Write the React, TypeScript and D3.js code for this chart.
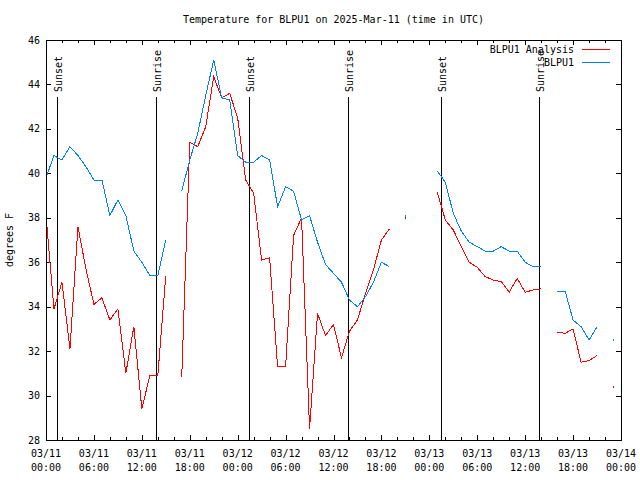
import React from "react";
import * as d3 from "d3";

const TITLE = "Temperature for BLPU1 on 2025-Mar-11 (time in UTC)";
const START = "2025-03-11T00:00:00Z";
const END = "2025-03-14T00:00:00Z";

// hourly values starting at START (null = missing)
const observed: (number | null)[] = [
  39.8, 40.8, 40.6, 41.2, 40.8, 40.3, 39.7, 39.7, 38.1, 38.8, 38.1, 36.5, 36.0, 35.4, 35.4, 37.0,
  null, 39.2, 40.6, 41.8, 43.5, 45.1, 43.4, 43.3, 40.8, 40.5, 40.5, 40.8, 40.6, 38.5, 39.4, 39.2,
  37.9, 38.1, 36.9, 35.9, 35.5, 35.1, 34.3, 34.0, 34.45, 35.1, 36.0, 35.8, null, 38.1, null, null,
  null, 40.1, 39.6, 38.2, 37.4, 36.9, 36.7, 36.5, 36.5, 36.7, 36.5, 36.5, 36.0, 35.8, 35.8, null,
  34.7, 34.7, 33.4, 33.1, 32.5, 33.1, null, 32.5,
];
const analysis: (number | null)[] = [
  38.1, 33.9, 35.1, 32.1, 37.6, 35.7, 34.1, 34.4, 33.4, 33.9, 31.0, 33.1, 29.4, 30.9, 30.9, 35.4,
  null, 30.85, 41.4, 41.2, 42.1, 44.35, 43.4, 43.6, 42.5, 39.7, 39.1, 36.1, 36.2, 31.3, 31.3, 37.2,
  38.0, 28.5, 33.7, 32.7, 33.2, 31.7, 32.9, 33.4, 34.6, 35.65, 37.0, 37.5, null, 38.0, null, null,
  null, 39.15, 37.9, 37.45, 36.7, 36.0, 35.77, 35.35, 35.2, 35.13, 34.65, 35.27, 34.65, 34.75, 34.8, null,
  32.85, 32.8, 33.0, 31.5, 31.57, 31.8, null, 30.4,
];
const sunsets = ["2025-03-11T01:25:00Z", "2025-03-12T01:27:00Z", "2025-03-13T01:28:00Z"];
const sunrises = ["2025-03-11T13:49:00Z", "2025-03-12T13:48:00Z", "2025-03-13T13:47:00Z"];
const yTicks = [28, 30, 32, 34, 36, 38, 40, 42, 44, 46];
const seriesNames = ["BLPU1 Analysis", "BLPU1"];
const seriesColors = ["#ff0000", "#0080ff"];

const FONT = "'DejaVu Sans Mono', monospace";
const W = 640, H = 480;
const L = 46, R = 621, T = 40, B = 440;

export default function App() {
  const start = new Date(START);
  const end = new Date(END);
  const x = d3.scaleUtc().domain([start, end]).range([L, R]);
  const y = d3.scaleLinear().domain([28, 46]).range([B, T]);
  const tAt = (i: number) => d3.utcHour.offset(start, i);

  const line = d3
    .line<number | null>()
    .defined((d) => d != null)
    .x((_, i) => x(tAt(i)))
    .y((d) => y(d as number));

  const isolated = (arr: (number | null)[]) =>
    arr
      .map((v, i) => ({ v, i }))
      .filter(({ v, i }) => v != null && arr[i - 1] == null && arr[i + 1] == null);

  const majors = d3.utcHour.every(6)!.range(start, d3.utcHour.offset(end, 1));
  const minors = d3.utcHour.every(2)!.range(start, d3.utcHour.offset(end, 1));
  const fmtD = d3.utcFormat("%m/%d");
  const fmtH = d3.utcFormat("%H:%M");

  const series = [analysis, observed];
  const suns = [
    ...sunsets.map((s) => ({ t: new Date(s), label: "Sunset" })),
    ...sunrises.map((s) => ({ t: new Date(s), label: "Sunrise" })),
  ];

  return (
    <svg
      width={W}
      height={H}
      style={{ position: "absolute", left: 0, top: 0, background: "#fff" }}
      fontFamily={FONT}
      fontSize={10}
    >
      <rect x={0} y={0} width={W} height={H} fill="#fff" />
      <text x={(L + R) / 2} y={23} textAnchor="middle" fill="#000">
        {TITLE}
      </text>

      {/* ticks */}
      <g stroke="#000" shapeRendering="crispEdges">
        {minors.map((t, i) => (
          <g key={"mi" + i}>
            <line x1={Math.round(x(t)) + 0.5} x2={Math.round(x(t)) + 0.5} y1={B} y2={B - 3} />
            <line x1={Math.round(x(t)) + 0.5} x2={Math.round(x(t)) + 0.5} y1={T} y2={T + 3} />
          </g>
        ))}
        {majors.map((t, i) => (
          <g key={"ma" + i}>
            <line x1={Math.round(x(t)) + 0.5} x2={Math.round(x(t)) + 0.5} y1={B} y2={B - 5} />
            <line x1={Math.round(x(t)) + 0.5} x2={Math.round(x(t)) + 0.5} y1={T} y2={T + 5} />
          </g>
        ))}
        {yTicks.map((v) => (
          <g key={"yt" + v}>
            <line x1={L} x2={L + 5} y1={Math.round(y(v)) + 0.5} y2={Math.round(y(v)) + 0.5} />
            <line x1={R} x2={R - 5} y1={Math.round(y(v)) + 0.5} y2={Math.round(y(v)) + 0.5} />
          </g>
        ))}
      </g>

      {/* tick labels */}
      {yTicks.map((v) => (
        <text key={"yl" + v} x={40} y={y(v)} dy="0.35em" textAnchor="end" fill="#000">
          {v}
        </text>
      ))}
      {majors.map((t, i) => (
        <text key={"xl" + i} x={x(t)} textAnchor="middle" fill="#000">
          <tspan x={x(t)} y={457}>{fmtD(t)}</tspan>
          <tspan x={x(t)} y={471}>{fmtH(t)}</tspan>
        </text>
      ))}
      <text
        transform={`translate(13,${(T + B) / 2}) rotate(-90)`}
        textAnchor="middle"
        fill="#000"
      >
        degrees F
      </text>

      {/* sunrise/sunset markers */}
      {suns.map((s, i) => {
        const sx = Math.round(x(s.t)) + 0.5;
        return (
          <g key={"sun" + i}>
            <line x1={sx} x2={sx} y1={97} y2={B} stroke="#000" shapeRendering="crispEdges" />
            <text
              transform={`translate(${sx + 4},92) rotate(-90)`}
              textAnchor="start"
              fill="#000"
            >
              {s.label}
            </text>
          </g>
        );
      })}

      {/* data */}
      {series.map((arr, si) => (
        <g key={"s" + si}>
          <path
            d={line(arr) || ""}
            fill="none"
            stroke={seriesColors[si]}
            strokeWidth={1}
            shapeRendering="crispEdges"
          />
          {isolated(arr).map(({ v, i }) => (
            <rect
              key={i}
              x={Math.round(x(tAt(i)))}
              y={Math.round(y(v as number)) - 1}
              width={1}
              height={2}
              fill={seriesColors[si]}
            />
          ))}
        </g>
      ))}

      {/* frame */}
      <rect
        x={L + 0.5}
        y={T + 0.5}
        width={R - L}
        height={B - T}
        fill="none"
        stroke="#000"
        shapeRendering="crispEdges"
      />

      {/* legend */}
      {seriesNames.map((n, i) => (
        <g key={"lg" + i}>
          <text x={574} y={49 + i * 13} dy="0.35em" textAnchor="end" fill="#000">
            {n}
          </text>
          <line
            x1={582}
            x2={610}
            y1={49.5 + i * 13}
            y2={49.5 + i * 13}
            stroke={seriesColors[i]}
            shapeRendering="crispEdges"
          />
        </g>
      ))}
    </svg>
  );
}
